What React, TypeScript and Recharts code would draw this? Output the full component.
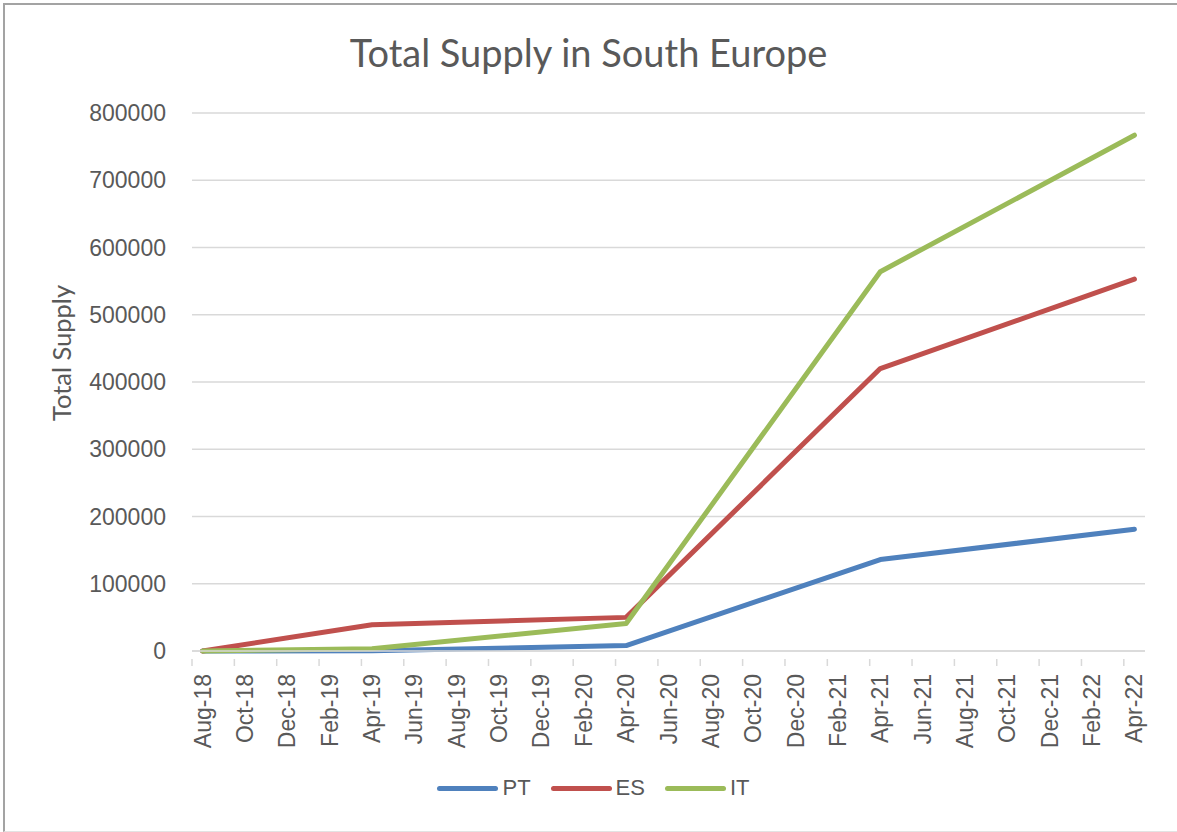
import { LineChart, Line, XAxis, YAxis, CartesianGrid, Legend, Label } from "recharts";

// two-monthly axis labels; data months are looked up in this list
const TICK_LABELS = [
  "Aug-18", "Oct-18", "Dec-18", "Feb-19", "Apr-19", "Jun-19", "Aug-19", "Oct-19",
  "Dec-19", "Feb-20", "Apr-20", "Jun-20", "Aug-20", "Oct-20", "Dec-20", "Feb-21",
  "Apr-21", "Jun-21", "Aug-21", "Oct-21", "Dec-21", "Feb-22", "Apr-22",
];
const DATES = ["Aug-18", "Apr-19", "Apr-20", "Apr-21", "Apr-22"];
const PT = [0, 500, 8000, 136000, 181000];
const ES = [0, 39000, 50000, 420000, 553000];
const IT = [0, 3500, 41000, 564000, 767000];
const Y_TICKS = [0, 100000, 200000, 300000, 400000, 500000, 600000, 700000, 800000];

const SERIES = [
  { key: "PT", color: "#4F81BD" },
  { key: "ES", color: "#C0504D" },
  { key: "IT", color: "#9BBB59" },
];

const monthIndex = (label: string) => 2 * TICK_LABELS.indexOf(label);

const data = DATES.map((d, i) => ({
  m: monthIndex(d),
  PT: PT[i],
  ES: ES[i],
  IT: IT[i],
}));

const X_TICKS = TICK_LABELS.map((_, i) => i * 2);

const TEXT = "#595959";
const GRID = "#d9d9d9";
const PLOT_LEFT = 192;
const PLOT_RIGHT = 1145;
const HALF_MONTH = (PLOT_RIGHT - PLOT_LEFT) / 45 / 2;

function MonthTick(props: any) {
  const { x, y, payload } = props;
  const label = TICK_LABELS[payload.value / 2];
  return (
    <g>
      <line x1={x - HALF_MONTH} x2={x - HALF_MONTH} y1={y} y2={y + 7} stroke={GRID} strokeWidth={1.5} />
      <text
        x={x}
        y={y + 15}
        transform={`rotate(-90, ${x}, ${y + 15})`}
        textAnchor="end"
        dy="0.35em"
        fill={TEXT}
        fontSize={23}
        fontFamily="Liberation Sans, Arial, sans-serif"
      >
        {label}
      </text>
    </g>
  );
}

function LegendContent() {
  return (
    <div
      style={{
        display: "flex",
        justifyContent: "center",
        alignItems: "center",
        gap: 20,
        width: 1177,
        paddingLeft: 10,
        boxSizing: "border-box",
        fontFamily: "Liberation Sans, Arial, sans-serif",
        fontSize: 22,
        color: TEXT,
      }}
    >
      {SERIES.map((s) => (
        <div key={s.key} style={{ display: "flex", alignItems: "center", gap: 4 }}>
          <span style={{ width: 61, height: 5, borderRadius: 3, background: s.color, display: "inline-block" }} />
          <span>{s.key}</span>
        </div>
      ))}
    </div>
  );
}

export default function App() {
  return (
    <div style={{ position: "absolute", left: 0, top: 0, width: 1177, height: 832, background: "#fff" }}>
      <div
        style={{
          position: "absolute",
          left: 3,
          top: 3,
          width: 1172,
          height: 826,
          borderTop: "2px solid #a3a3a3",
          borderLeft: "2px solid #a3a3a3",
          borderRight: "1px solid #e3e3e3",
          borderBottom: "1px solid #e3e3e3",
        }}
      />
      <div
        style={{
          position: "absolute",
          top: 27,
          left: 0,
          width: 1177,
          textAlign: "center",
          fontFamily: "Lato, 'Open Sans', sans-serif",
          fontSize: 38,
          color: TEXT,
          lineHeight: "50px",
        }}
      >
        Total Supply in South Europe
      </div>
      <LineChart width={1177} height={832} data={data} margin={{ top: 113, right: 1177 - PLOT_RIGHT, bottom: 81, left: 0 }}>
        <CartesianGrid horizontal vertical={false} stroke={GRID} strokeWidth={1.5} />
        <XAxis
          dataKey="m"
          type="number"
          domain={[-0.5, 44.5]}
          ticks={X_TICKS}
          interval={0}
          height={100}
          tickLine={false}
          axisLine={{ stroke: GRID, strokeWidth: 1.5 }}
          tick={<MonthTick />}
        />
        <YAxis
          domain={[0, 800000]}
          ticks={Y_TICKS}
          width={PLOT_LEFT}
          axisLine={false}
          tickLine={false}
          tickSize={0}
          tickMargin={26}
          tick={{ fontSize: 23, fill: TEXT, fontFamily: "Liberation Sans, Arial, sans-serif" }}
        >
          <Label
            content={() => (
              <text
                x={62}
                y={353}
                transform="rotate(-90, 62, 353)"
                textAnchor="middle"
                dy="0.35em"
                fill={TEXT}
                fontSize={25.5}
                fontFamily="Lato, 'Open Sans', sans-serif"
              >
                Total Supply
              </text>
            )}
          />
        </YAxis>
        {SERIES.map((s) => (
          <Line
            key={s.key}
            dataKey={s.key}
            name={s.key}
            stroke={s.color}
            strokeWidth={5}
            dot={false}
            activeDot={false}
            strokeLinecap="round"
            strokeLinejoin="round"
            type="linear"
            isAnimationActive={false}
          />
        ))}
        <Legend
          layout="horizontal"
          verticalAlign="middle"
          align="center"
          content={<LegendContent />}
          wrapperStyle={{ position: "absolute", top: 775, left: 0, width: 1177 }}
        />
      </LineChart>
    </div>
  );
}
